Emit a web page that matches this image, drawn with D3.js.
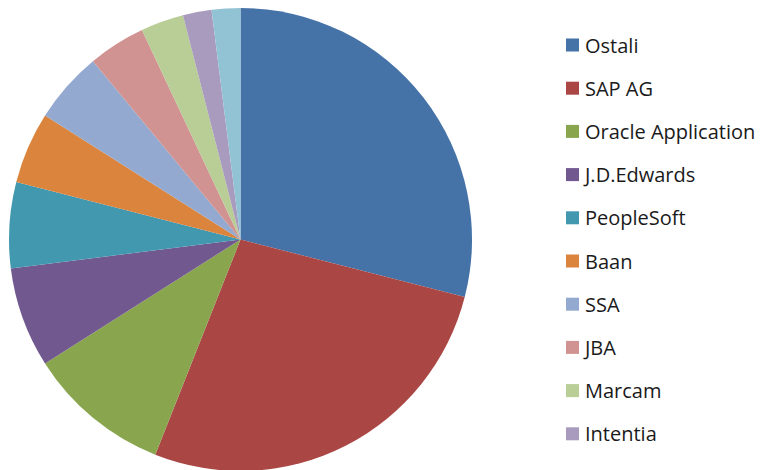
<!DOCTYPE html>
<html>
<head>
<meta charset="utf-8">
<script src="https://cdn.jsdelivr.net/npm/d3@7"></script>
<style>
  body { margin: 0; background: #fff; }
  svg { display: block; }
</style>
</head>
<body>
<div id="chart"></div>
<script>

// shares (percent); the 11th slice has no legend row visible in the picture
var categories = ["Ostali", "SAP AG", "Oracle Application", "J.D.Edwards", "PeopleSoft",
                  "Baan", "SSA", "JBA", "Marcam", "Intentia", "(11)"]

var values = [29, 27, 10, 7, 6, 5, 5, 4, 3, 2, 2]

var colors = ["#4572A7", "#AA4643", "#89A54E", "#71588F", "#4198AF",
              "#DB843D", "#93A9CF", "#D19392", "#B9CD96", "#A99BBD", "#92C3D5"]

var width = 763

var height = 470

var radius = 231.5

var svg = d3.select("#chart")
	.append("svg")
	.attr("width", width)
	.attr("height", height)

var pie = d3.pie()
	.sort(null)
	.value(d => d)

var arc = d3.arc()
	.innerRadius(0)
	.outerRadius(radius)

var color = d3.scaleOrdinal()
	.domain(categories)
	.range(colors)

svg.append("g")
	.attr("transform", "translate(240.5,239.5)")
	.selectAll("path")
	.data(pie(values))
	.join("path")
		.attr("d", arc)
		.attr("fill", (d, i) => color(categories[i]))

// legend - only the rows that fit in the picture

var y = d3.scalePoint()
	.domain(categories)
	.range([45, 45 + 43.2 * (categories.length - 1)])

var legend = svg.append("g")
	.attr("font-family", "'Open Sans', sans-serif")
	.attr("font-size", 20)
	.selectAll("g")
	.data(categories.filter(d => y(d) < height - 10))
	.join("g")
		.attr("transform", d => `translate(566,${y(d)})`)

legend.append("rect")
	.attr("x", 0)
	.attr("y", -6.5)
	.attr("width", 13)
	.attr("height", 13)
	.attr("fill", d => color(d))

legend.append("text")
	.attr("x", 19)
	.attr("y", 7.5)
	.attr("fill", "#1a1a1a")
	.text(d => d)

</script>
</body>
</html>
